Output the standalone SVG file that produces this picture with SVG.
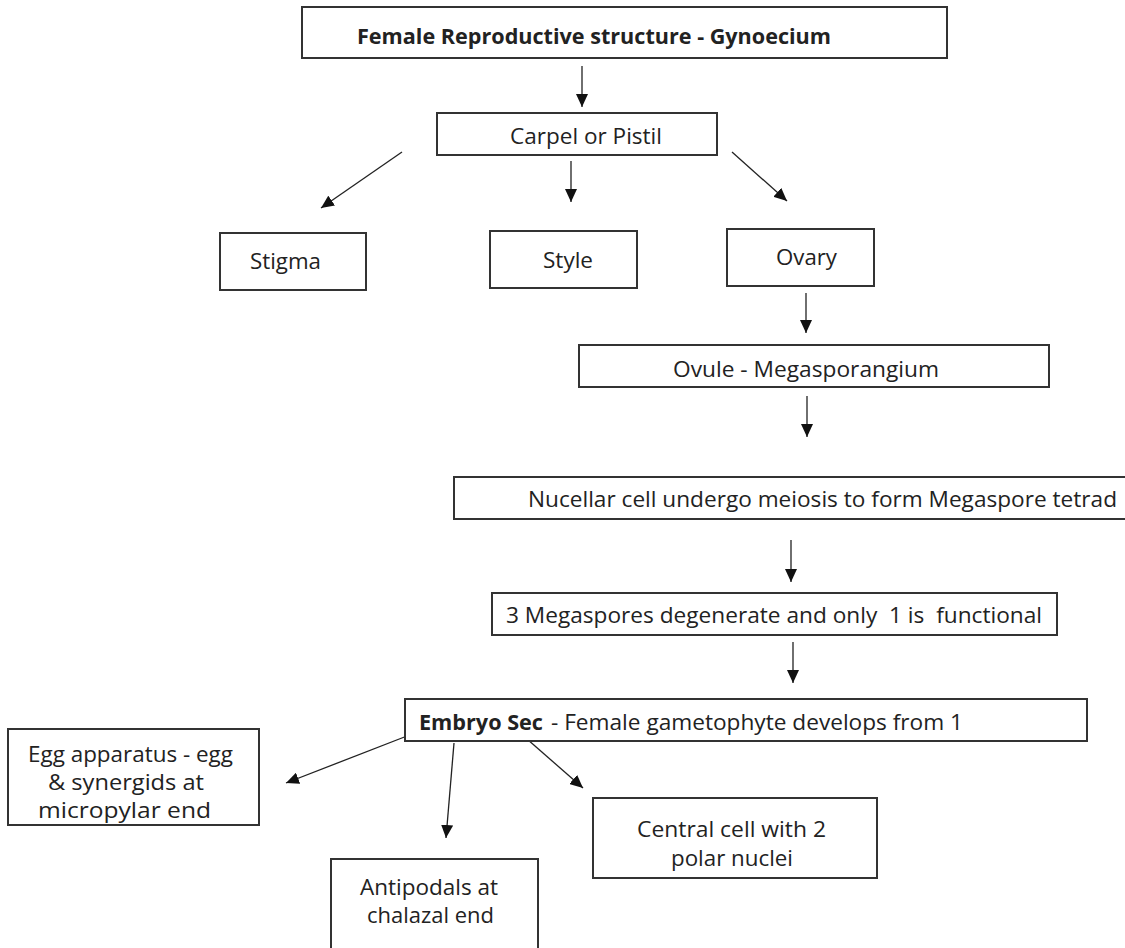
<svg xmlns="http://www.w3.org/2000/svg" width="1125" height="948" viewBox="0 0 1125 948">
<style>
.box{fill:#fff;stroke:#333;stroke-width:2}
.t{font-family:"Open Sans","Liberation Sans",sans-serif;font-size:21px;fill:#222}
.b{font-weight:bold}
.c{fill:none;stroke:#222;stroke-width:1.3;marker-end:url(#ah)}
</style>
<defs>
<marker id="ah" viewBox="0 0 13 12" refX="13" refY="6" markerWidth="13" markerHeight="12" markerUnits="userSpaceOnUse" orient="auto">
<path d="M0,0 L13,6 L0,12 z" fill="#111"/>
</marker>
</defs>
<rect width="1125" height="948" fill="#fff"/>
<g id="connectors">
<line class="c" x1="582" y1="66" x2="582" y2="107"/>
<line class="c" x1="402" y1="152" x2="321" y2="208"/>
<line class="c" x1="571" y1="161" x2="571" y2="202"/>
<line class="c" x1="732" y1="152" x2="787" y2="201"/>
<line class="c" x1="806" y1="293" x2="806" y2="333"/>
<line class="c" x1="807" y1="396" x2="807" y2="437"/>
<line class="c" x1="791" y1="540" x2="791" y2="582"/>
<line class="c" x1="793" y1="642" x2="793" y2="683"/>
<line class="c" x1="407" y1="736" x2="286" y2="783"/>
<line class="c" x1="454" y1="743" x2="446" y2="838"/>
<line class="c" x1="527" y1="739" x2="583" y2="788"/>
</g>
<g id="gynoecium">
<rect class="box" x="302" y="7" width="645" height="51"/>
<text class="t b" x="357" y="44" textLength="474" lengthAdjust="spacingAndGlyphs">Female Reproductive structure - Gynoecium</text>
</g>
<g id="carpel">
<rect class="box" x="437" y="113" width="280" height="42"/>
<text class="t" x="510" y="144" textLength="152" lengthAdjust="spacingAndGlyphs">Carpel or Pistil</text>
</g>
<g id="stigma">
<rect class="box" x="220" y="233" width="146" height="57"/>
<text class="t" x="250" y="269" textLength="71" lengthAdjust="spacingAndGlyphs">Stigma</text>
</g>
<g id="style">
<rect class="box" x="490" y="231" width="147" height="57"/>
<text class="t" x="543" y="268" textLength="50" lengthAdjust="spacingAndGlyphs">Style</text>
</g>
<g id="ovary">
<rect class="box" x="727" y="229" width="147" height="57"/>
<text class="t" x="776" y="265" textLength="61" lengthAdjust="spacingAndGlyphs">Ovary</text>
</g>
<g id="ovule">
<rect class="box" x="579" y="345" width="470" height="42"/>
<text class="t" x="673" y="377" textLength="266" lengthAdjust="spacingAndGlyphs">Ovule - Megasporangium</text>
</g>
<g id="nucellar">
<rect class="box" x="454" y="477" width="673" height="42"/>
<text class="t" x="528" y="507" textLength="589" lengthAdjust="spacingAndGlyphs">Nucellar cell undergo meiosis to form Megaspore tetrad</text>
</g>
<g id="megaspores">
<rect class="box" x="492" y="593" width="565" height="42"/>
<text class="t" x="506" y="623" textLength="536" lengthAdjust="spacingAndGlyphs" xml:space="preserve">3 Megaspores degenerate and only  1 is  functional</text>
</g>
<g id="embryo-sac">
<rect class="box" x="405" y="699" width="682" height="42"/>
<text class="t b" x="419" y="730" textLength="124" lengthAdjust="spacingAndGlyphs">Embryo Sec</text>
<text class="t" x="551" y="730" textLength="412" lengthAdjust="spacingAndGlyphs">- Female gametophyte develops from 1</text>
</g>
<g id="egg-apparatus">
<rect class="box" x="8" y="729" width="251" height="96"/>
<text class="t" x="28" y="762" textLength="205" lengthAdjust="spacingAndGlyphs">Egg apparatus - egg</text>
<text class="t" x="48" y="790" textLength="156" lengthAdjust="spacingAndGlyphs">&amp; synergids at</text>
<text class="t" x="38" y="818" textLength="173" lengthAdjust="spacingAndGlyphs">micropylar end</text>
</g>
<g id="antipodals">
<rect class="box" x="331" y="859" width="207" height="101"/>
<text class="t" x="360" y="895" textLength="138" lengthAdjust="spacingAndGlyphs">Antipodals at</text>
<text class="t" x="367" y="923" textLength="127" lengthAdjust="spacingAndGlyphs">chalazal end</text>
</g>
<g id="central-cell">
<rect class="box" x="593" y="798" width="284" height="80"/>
<text class="t" x="637" y="837" textLength="189" lengthAdjust="spacingAndGlyphs">Central cell with 2</text>
<text class="t" x="671" y="866" textLength="122" lengthAdjust="spacingAndGlyphs">polar nuclei</text>
</g>
</svg>
